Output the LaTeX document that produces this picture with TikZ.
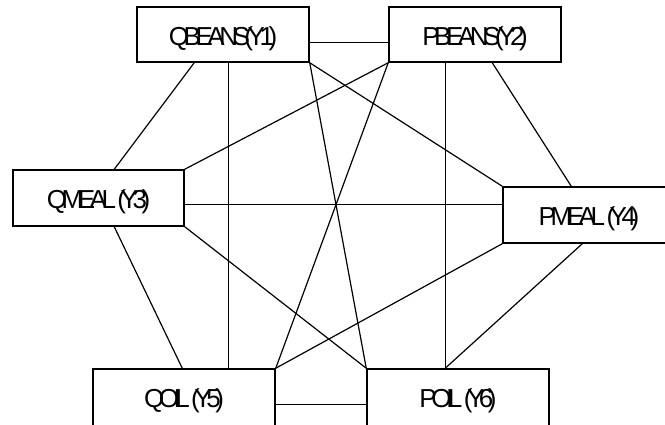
\documentclass[tikz,border=0pt]{standalone}
\usepackage{fontspec}
\newfontfamily\labfont{Liberation Sans}[LetterSpace=-21]
\newcommand{\lowlab}[2]{\raisebox{#1}[0pt][0pt]{#2}}
\begin{document}
\begin{tikzpicture}[x=1pt,y=1pt,
  varbox/.style={draw=black, line width=1.5pt, rectangle, inner sep=0pt,
    minimum width=172pt, minimum height=55pt,
    font=\labfont\fontsize{26}{30}\selectfont},
  link/.style={draw=black, line width=1.2pt}]
\useasboundingbox (0,0) rectangle (665,425);
\begin{scope}
\clip (0,0) rectangle (665,425);
% boxes (image y flipped: tikz y = 425 - y)
\node[varbox] (y1) at (223,390.5) {\lowlab{-11pt}{QBEANS(Y1)}};
\node[varbox] (y2) at (475,390.5) {\lowlab{-11pt}{PBEANS(Y2)}};
\node[varbox, minimum width=171pt, minimum height=56pt] (y3) at (98.5,227) {\lowlab{-11pt}{QMEAL\hspace{1.5pt}(Y3)}};
\node[varbox, minimum height=56pt] (y4) at (589,210) {\lowlab{-11pt}{PMEAL\hspace{1.5pt}(Y4)}};
\node[varbox, minimum width=182pt, minimum height=57pt] (y5) at (184,27.5) {\lowlab{-10pt}{QOIL\hspace{1.5pt}(Y5)}};
\node[varbox, minimum width=182pt, minimum height=57pt] (y6) at (458,27.5) {\lowlab{-10pt}{POIL\hspace{1.5pt}(Y6)}};
\end{scope}
% anchor coordinates
\coordinate (h12) at ([yshift=-36pt]y1.north east);
\coordinate (h34) at ([yshift=-35pt]y3.north east);
\coordinate (h56) at ([yshift=-36pt]y5.north east);
% edges
\draw[link] (h12) -- (h12 -| y2.west);
\draw[link] ([xshift=58pt]y1.south west) -- ([xshift=102pt]y3.north west);
\draw[link] (y1.south east) -- (y4.north west);
\draw[link] ([xshift=92pt]y1.south west) -- ([xshift=136pt]y5.north west);
\draw[link] (y1.south east) -- (y6.north west);
\draw[link] (y2.south west) -- (y3.north east);
\draw[link] ([xshift=104pt]y2.south west) -- ([xshift=69pt]y4.north west);
\draw[link] (y2.south west) -- (y5.north east);
\draw[link] ([xshift=57pt]y2.south west) -- ([xshift=79pt]y6.north west);
\draw[link] (h34) -- (h34 -| y4.west);
\draw[link] ([xshift=102pt]y3.south west) -- ([xshift=90pt]y5.north west);
\draw[link] (y3.south east) -- (y6.north west);
\draw[link] (y4.south west) -- (y5.north east);
\draw[link] ([xshift=80pt]y4.south west) -- ([xshift=79pt]y6.north west);
\draw[link] (h56) -- (h56 -| y6.west);
\end{tikzpicture}
\end{document}
